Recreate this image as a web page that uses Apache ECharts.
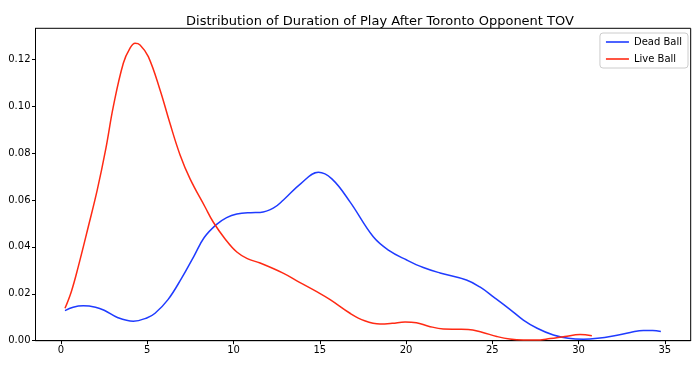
<!DOCTYPE html>
<html><head><meta charset="utf-8">
<script src="https://cdn.jsdelivr.net/npm/echarts@6/dist/echarts.min.js"></script>
<style>html,body{margin:0;padding:0;background:#fff}#c{width:699px;height:367px}</style>
</head><body><div id="c"></div>
<script>
const titleText = "Distribution of Duration of Play After Toronto Opponent TOV";
const seriesNames = ["Dead Ball", "Live Ball"];
const deadX = [0.23,0.7,1.29,2.0,2.5,3.3,4.19,5.0,5.45,6.2,7.0,7.7,8.3,9.0,9.6,10.19,11.0,11.54,12.3,12.89,13.9,14.92,15.7,16.75,18.1,19.0,20.04,21.0,21.97,23.5,24.3,25.1,26.0,26.8,27.6,28.54,29.4,30.28,31.1,32.0,33.0,33.76,34.3,34.77];
const deadY = [0.0128,0.0143,0.0149,0.0143,0.0130,0.0098,0.0083,0.0098,0.0117,0.0175,0.0268,0.0360,0.0440,0.0495,0.0525,0.0540,0.0546,0.0547,0.0565,0.0600,0.0670,0.0718,0.0690,0.0592,0.0443,0.0385,0.0344,0.0312,0.0289,0.0259,0.0228,0.0185,0.0135,0.0088,0.0053,0.0024,0.0010,0.0006,0.0010,0.0020,0.0035,0.0044,0.0043,0.0039];
const liveX = [0.23,0.6,1.0,1.58,2.1,2.6,3.03,3.61,4.0,4.29,4.58,5.06,5.74,6.3,6.9,7.48,8.35,8.83,9.5,10.19,10.8,11.54,12.9,13.8,14.82,15.6,16.75,17.6,18.49,19.2,19.94,20.6,21.3,22.16,23.0,23.6,24.4,25.26,26.0,26.8,27.5,28.35,29.2,30.09,30.77];
const liveY = [0.0138,0.021,0.0316,0.0486,0.0643,0.082,0.0998,0.1183,0.1247,0.1268,0.1261,0.1211,0.1069,0.093,0.0792,0.0690,0.0570,0.0505,0.0435,0.0378,0.0350,0.0331,0.0287,0.0250,0.0209,0.0175,0.0117,0.0085,0.0071,0.0074,0.0080,0.0077,0.0062,0.0050,0.0049,0.0048,0.0036,0.0018,0.0007,0.0003,0.0003,0.0009,0.0018,0.0026,0.0021];
const xTicks = [0,5,10,15,20,25,30,35];
const yTicks = [0,0.02,0.04,0.06,0.08,0.10,0.12];

const zip = (xs, ys) => xs.map((x, i) => [x, ys[i]]);
const FONT = "DejaVu Sans";
const chart = echarts.init(document.getElementById('c'), null, {renderer: 'canvas'});
chart.setOption({
  animation: false,
  backgroundColor: '#fff',
  title: {
    text: titleText, left: 375, top: 10, textAlign: 'center',
    textStyle: {fontFamily: FONT, fontSize: 13, fontWeight: 'normal', color: '#000'}
  },
  legend: {
    orient: 'vertical', right: 11, top: 33,
    data: seriesNames,
    icon: 'path://M0,0 L23,0 L23,1.6 L0,1.6 Z',
    itemWidth: 23, itemHeight: 2, itemGap: 7,
    borderColor: '#ccc', borderWidth: 1, borderRadius: 3,
    padding: [4, 6, 4, 6],
    textStyle: {fontFamily: FONT, fontSize: 10, color: '#000'}
  },
  grid: {left: 35.5, right: 8.3, top: 28.3, bottom: 26.3, show: true, borderColor: '#000', borderWidth: 1, backgroundColor: 'transparent'},
  xAxis: {
    type: 'value', min: -1.48, max: 36.5,
    splitLine: {show: false},
    axisLine: {onZero: false, lineStyle: {color: '#000'}},
    axisTick: {show: true, length: 3.5, inside: false, customValues: xTicks, lineStyle: {color: '#000'}},
    axisLabel: {customValues: xTicks, fontFamily: FONT, fontSize: 10, color: '#000', margin: 5}
  },
  yAxis: {
    type: 'value', min: 0, max: 0.1332,
    splitLine: {show: false},
    axisLine: {show: true, onZero: false, lineStyle: {color: '#000'}},
    axisTick: {show: true, length: 3.5, customValues: yTicks, lineStyle: {color: '#000'}},
    axisLabel: {customValues: yTicks, formatter: v => v.toFixed(2), fontFamily: FONT, fontSize: 10, color: '#000', margin: 5}
  },
  series: [
    {name: seriesNames[0], type: 'line', data: zip(deadX, deadY), smooth: 0.4, showSymbol: false, symbol: 'none', lineStyle: {color: '#1f3bff', width: 1.5}, itemStyle: {color: '#1f3bff'}},
    {name: seriesNames[1], type: 'line', data: zip(liveX, liveY), smooth: 0.4, showSymbol: false, symbol: 'none', lineStyle: {color: '#ff2a14', width: 1.5}, itemStyle: {color: '#ff2a14'}}
  ]
});
</script></body></html>
